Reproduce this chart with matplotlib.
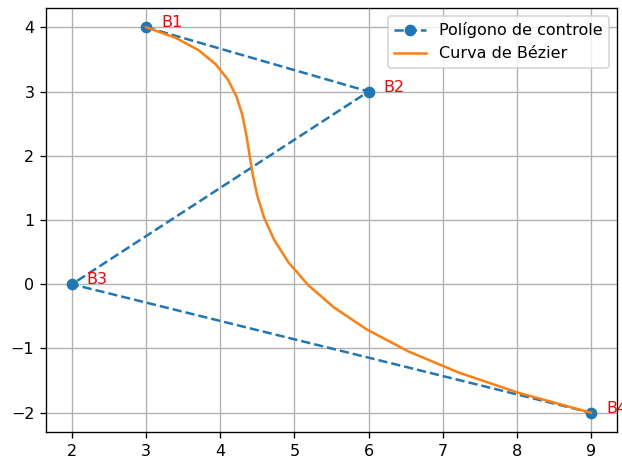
import matplotlib
matplotlib.use("Agg")
import matplotlib.pyplot as plt

plt.rcParams['font.size'] = 9.6

# Control polygon
ctrl_x = [3, 6, 2, 9]
ctrl_y = [4, 3, 0, -2]
ctrl_labels = ["B1", "B2", "B3", "B4"]

# Bezier curve points
curve_x = [3.0, 3.400, 3.708, 3.938, 4.104, 4.219, 4.296, 4.349, 4.392, 4.438,
           4.500, 4.592, 4.728, 4.921, 5.184, 5.531, 5.976, 6.532, 7.212, 8.030, 9.0]
curve_y = [4.0, 3.835, 3.643, 3.425, 3.184, 2.922, 2.641, 2.344, 2.032, 1.708,
           1.375, 1.034, 0.688, 0.339, -0.011, -0.359, -0.704, -1.043, -1.373, -1.693, -2.0]

fig = plt.figure(figsize=(622/120, 456/120), dpi=120)
ax = fig.add_axes([46/622, 24/456, 571/622, 424/456])

ax.plot(ctrl_x, ctrl_y, '--o', label='Polígono de controle')
ax.plot(curve_x, curve_y, '-', label='Curva de Bézier')
for x, y, s in zip(ctrl_x, ctrl_y, ctrl_labels):
    ax.text(x + 0.2, y, s, color='red', clip_on=False)

ax.grid(True)
ax.legend(loc='upper right')
fig.savefig("out.png", dpi=120)
